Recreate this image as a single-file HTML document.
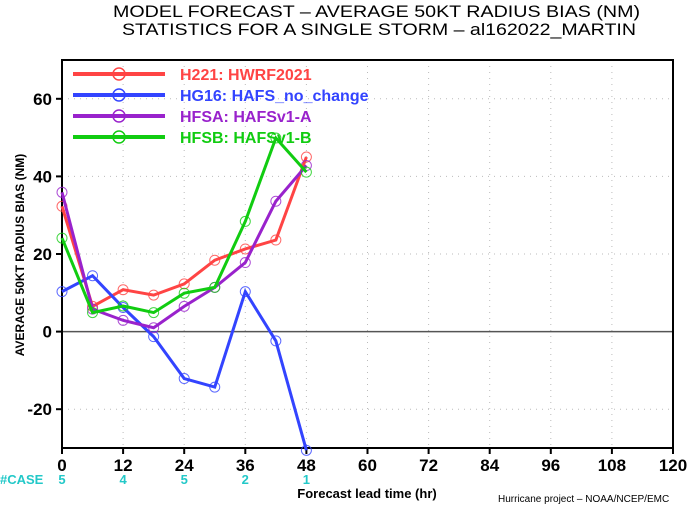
<!DOCTYPE html>
<html><head><meta charset="utf-8"><style>
body{margin:0;background:#fff;}
svg{display:block;font-family:"Liberation Sans",sans-serif;}
</style></head><body>
<svg id="chart" width="700" height="506" viewBox="0 0 700 506" xmlns="http://www.w3.org/2000/svg">
<text x="113" y="17" font-size="17" textLength="527" lengthAdjust="spacingAndGlyphs" fill="#000">MODEL FORECAST – AVERAGE 50KT RADIUS BIAS (NM)</text>
<text x="122" y="35" font-size="17" textLength="514" lengthAdjust="spacingAndGlyphs" fill="#000">STATISTICS FOR A SINGLE STORM – al162022_MARTIN</text>
<g id="grid"></g>
<g id="axes"></g>
<g id="series"></g>
<g id="legend"></g>
<text transform="translate(24,255) rotate(-90)" font-size="12" font-weight="bold" text-anchor="middle">AVERAGE 50KT RADIUS BIAS (NM)</text>
<text x="367" y="498" font-size="13" font-weight="bold" text-anchor="middle">Forecast lead time (hr)</text>
<text x="498" y="502" font-size="10">Hurricane project – NOAA/NCEP/EMC</text>
<text x="0" y="484" font-size="13" font-weight="bold" fill="#22c8c8">#CASE</text>
</svg>
<script>
const hours=[0,6,12,18,24,30,36,42,48];
const h221=[32.3,6.5,10.8,9.4,12.3,18.4,21.3,23.6,45];
const hg16=[10.3,14.4,6.2,-1.3,-12.1,-14.3,10.3,-2.4,-30.6];
const hfsa=[35.9,5.8,2.9,1.0,6.5,11.4,17.8,33.6,42.8];
const hfsb=[24.1,4.9,6.6,4.9,9.9,11.4,28.4,49.9,41.1];
const seriesNames=["H221: HWRF2021","HG16: HAFS_no_change","HFSA: HAFSv1-A","HFSB: HAFSv1-B"];
const xTicks=[0,12,24,36,48,60,72,84,96,108,120];
const yTicks=[-20,0,20,40,60];
const caseHours=[0,12,24,36,48];
const caseCounts=[5,4,5,2,1];
const X0=62,X1=673,Y0=448,Y1=60,xmin=0,xmax=120,ymin=-30,ymax=70;
const xs=v=>X0+(v-xmin)/(xmax-xmin)*(X1-X0);
const ys=v=>Y0-(v-ymin)/(ymax-ymin)*(Y0-Y1);
const NS="http://www.w3.org/2000/svg";
function mk(tag,parent,attrs){const e=document.createElementNS(NS,tag);for(const k in attrs)e.setAttribute(k,attrs[k]);parent.appendChild(e);return e;}
const grid=document.getElementById('grid'),axes=document.getElementById('axes'),ser=document.getElementById('series'),leg=document.getElementById('legend'),svg=document.getElementById('chart');
xTicks.forEach(t=>{
 if(t>0&&t<120){const l=mk('line',grid,{x1:xs(t),x2:xs(t),y1:Y1,y2:Y0,stroke:'#bbb','stroke-dasharray':'1,5'});
 }
 const tk=mk('line',axes,{x1:xs(t),x2:xs(t),y1:Y0,y2:Y0+6,stroke:'#000','stroke-width':2});
 
 const tx=mk('text',axes,{x:xs(t),y:Y0+23,'font-size':17,'font-weight':'bold','text-anchor':'middle'});
 tx.textContent=t;
});
yTicks.forEach(t=>{
 if(t!==0){const l=mk('line',grid,{x1:X0,x2:X1,y1:ys(t),y2:ys(t),stroke:'#bbb','stroke-dasharray':'1,5'});
 }
 const tk=mk('line',axes,{x1:X0-6,x2:X0,y1:ys(t),y2:ys(t),stroke:'#000','stroke-width':2});
 
 const tx=mk('text',axes,{x:X0-10,y:ys(t)+6,'font-size':17,'font-weight':'bold','text-anchor':'end'});
 tx.textContent=t;
});
const z=mk('line',axes,{x1:X0,x2:X1,y1:ys(0),y2:ys(0),stroke:'#555','stroke-width':1.5});

const fr=mk('rect',axes,{x:X0,y:Y1,width:X1-X0,height:Y0-Y1,fill:'none',stroke:'#000','stroke-width':2});

caseHours.forEach((h,i)=>{const t=mk('text',svg,{x:xs(h),y:484,'font-size':13,'font-weight':'bold','text-anchor':'middle',fill:'#22c8c8'});
 t.textContent=caseCounts[i];});
const data=[h221,hg16,hfsa,hfsb];
const colors=['#ff4444','#3344ff','#9922cc','#11cc11'];
data.forEach((d,si)=>{
 const g=mk('g',ser,{});
 const pts=d.map((v,i)=>xs(hours[i])+','+ys(v)).join(' ');
 const pl=mk('polyline',g,{points:pts,fill:'none',stroke:colors[si],'stroke-width':3});
 
 d.forEach((v,i)=>{const c=mk('circle',g,{cx:xs(hours[i]),cy:ys(v),r:5,fill:'none',stroke:colors[si],'stroke-width':1,opacity:0.8});
  });
});
seriesNames.forEach((n,i)=>{
 const y=74+i*21;
 const g=mk('g',leg,{});
 mk('line',g,{x1:73,x2:165,y1:y,y2:y,stroke:colors[i],'stroke-width':4});
 mk('circle',g,{cx:119,cy:y,r:6,fill:'none',stroke:colors[i],'stroke-width':1.5});
 const t=mk('text',g,{x:180,y:y+6,'font-size':16,'font-weight':'bold',fill:colors[i]});t.textContent=n;
});
</script>
</body></html>
